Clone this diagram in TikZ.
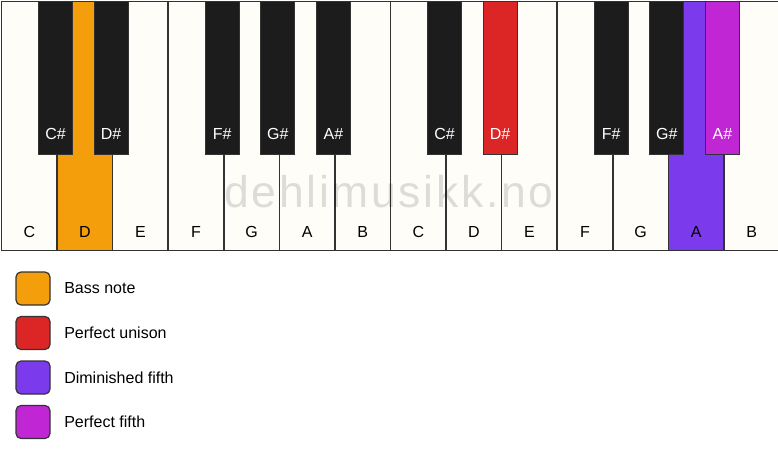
\documentclass[tikz,border=0pt]{standalone}
\usepackage{fontspec}
\setmainfont{Liberation Sans}
\newfontfamily\markfont[LetterSpace=6]{Liberation Sans}
\usetikzlibrary{positioning}
\definecolor{keywhite}{HTML}{FEFDF8}
\definecolor{keyblack}{HTML}{1C1C1C}
\definecolor{keyline}{HTML}{333333}
\definecolor{bassnote}{HTML}{F59E0B}
\definecolor{unison}{HTML}{DC2626}
\definecolor{dimfifth}{HTML}{7C3AED}
\definecolor{perfifth}{HTML}{C026D3}
\tikzset{
  whitekey/.style={draw=keyline,line width=1.5pt,anchor=north west,
    minimum width=55.57pt,minimum height=249pt,inner sep=0pt},
  blackkey/.style={draw=keyline,line width=1.2pt,anchor=north,
    minimum width=34pt,minimum height=153pt,inner sep=0pt},
  keylabel/.style={font=\fontsize{16}{18}\selectfont,inner sep=0pt},
  swatch/.style={draw=keyline,line width=1.2pt,rounded corners=5pt,
    minimum width=34pt,minimum height=33pt,inner sep=0pt},
  legendtext/.style={font=\fontsize{16}{18}\selectfont,anchor=west,inner sep=0pt}
}
\begin{document}
\begin{tikzpicture}[x=1pt,y=-1pt]
    \useasboundingbox (0,0) rectangle (778,461);

    % White keys
    \foreach \n/\c [count=\i from 0] in {C/keywhite,D/bassnote,E/keywhite,F/keywhite,
        G/keywhite,A/keywhite,B/keywhite,C/keywhite,D/keywhite,E/keywhite,
        F/keywhite,G/keywhite,A/dimfifth,B/keywhite} {
      \node[whitekey,fill=\c] (w\i) at (\i*55.57+0.75,0.75) {};
      \node[keylabel] (wl\i) at ([yshift=19.5pt]w\i.south) {\n};
    }

    % Watermark
    \node[text=black,text opacity=0.13,inner sep=0pt,
      font=\markfont\fontsize{44.5}{46}\selectfont] (mark) at (389,192) {dehlimusikk.no};

    % Black keys
    \foreach \b/\n/\c/\t in {1/C/keyblack/white,2/D/keyblack/white,4/F/keyblack/white,
        5/G/keyblack/white,6/A/keyblack/white,8/C/keyblack/white,9/D/unison/white,
        11/F/keyblack/white,12/G/keyblack/white,13/A/perfifth/white} {
      \node[blackkey,fill=\c] (b\b) at (\b*55.57,0.6) {};
      \node[keylabel,text=\t] (bl\b) at ([yshift=20.5pt]b\b.south) {\n\#};
    }

    % Legend
    \node[swatch,fill=bassnote] (sw1) at (33,288.5) {};
    \node[swatch,fill=unison,below=10.3pt of sw1] (sw2) {};
    \node[swatch,fill=dimfifth,below=10.3pt of sw2] (sw3) {};
    \node[swatch,fill=perfifth,below=10.3pt of sw3] (sw4) {};
    \node[legendtext,right=13.5pt of sw1] (lt1) {Bass note};
    \node[legendtext,right=13.5pt of sw2] (lt2) {Perfect unison};
    \node[legendtext,right=13.5pt of sw3] (lt3) {Diminished fifth};
    \node[legendtext,right=13.5pt of sw4] (lt4) {Perfect fifth};
\end{tikzpicture}
\end{document}
